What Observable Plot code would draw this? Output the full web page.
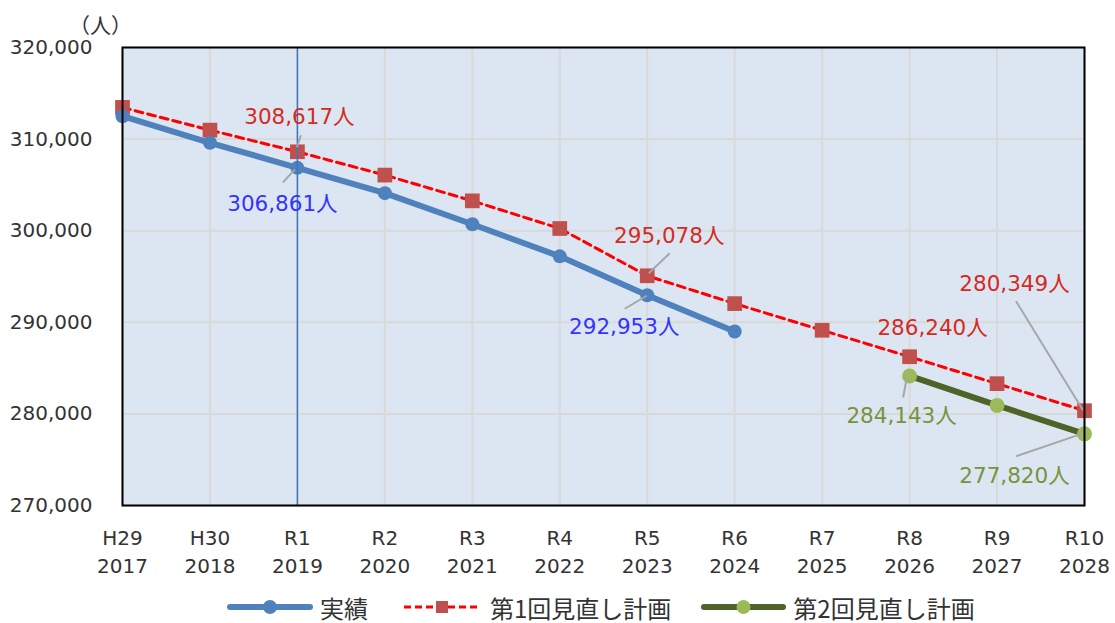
<!DOCTYPE html>
<html><head><meta charset="utf-8">
<script src="https://cdn.jsdelivr.net/npm/d3@7"></script>
<script src="https://cdn.jsdelivr.net/npm/@observablehq/plot@0.6"></script>
<style>
body{margin:0;background:#fff;font-family:"DejaVu Sans","Noto Sans CJK JP",sans-serif;}
#chart{width:1115px;height:585px;}
#legend{display:flex;align-items:center;padding-left:227px;height:44px;font-family:"Noto Sans CJK JP",sans-serif;font-size:24px;color:#333;}
.item{display:flex;align-items:center;}
.item svg{margin-right:7px;}
</style></head><body><div id="chart"></div><div id="legend"></div>
<script>
const years = [2017,2018,2019,2020,2021,2022,2023,2024,2025,2026,2027,2028];
const eraLabels = ["H29","H30","R1","R2","R3","R4","R5","R6","R7","R8","R9","R10"];
const actualYears = [2017,2018,2019,2020,2021,2022,2023,2024];
const actual = [312500,309600,306861,304100,300700,297200,292953,289000];
const plan1 = [313460,310980,308617,306070,303260,300240,295078,292040,289130,286240,283300,280349];
const plan2Years = [2026,2027,2028];
const plan2 = [284143,280930,277820];
const yTicks = [270000,280000,290000,300000,310000,320000];
const seriesNames = ["実績","第1回見直し計画","第2回見直し計画"];

const C = {blue:"#4f81bd", red:"#c0504d", dash:"#ff0000", dg:"#4f6228", lg:"#9bbb59",
  lblBlue:"#3333ff", lblRed:"#d42a20", lblGreen:"#77933c"};

const actualData = actualYears.map((x,i)=>({x, y: actual[i]}));
const plan1Data = years.map((x,i)=>({x, y: plan1[i]}));
const plan2Data = plan2Years.map((x,i)=>({x, y: plan2[i]}));

const fmt = v => d3.format(",")(v) + "人";

const notes = [
  {x:2019, y:plan1[2], c:C.lblRed, dx:2, dy:-35, lead:[[4,-16],[0,-4]]},
  {x:2019, y:actual[2], c:C.lblBlue, dx:-15, dy:36, lead:[[-2,2],[-14,15]]},
  {x:2023, y:plan1[6], c:C.lblRed, dx:22, dy:-40, lead:[[23,-22],[2,-2]]},
  {x:2023, y:actual[6], c:C.lblBlue, dx:-23, dy:32, lead:[[0,1],[-22,14]]},
  {x:2026, y:plan1[9], c:C.lblRed, dx:23, dy:-29, lead:null},
  {x:2028, y:plan1[11], c:C.lblRed, dx:-70, dy:-127, lead:[[-68,-109],[-1,0]]},
  {x:2026, y:plan2[0], c:C.lblGreen, dx:-8, dy:40, lead:[[-2,1],[-6,22]]},
  {x:2028, y:plan2[2], c:C.lblGreen, dx:-70, dy:42, lead:[[-1,0],[-68,23]]}
];

const leaders = (index, scales) => {
  const g = d3.create("svg:g").attr("stroke","#a6a6a6").attr("stroke-width",2);
  for (const n of notes) {
    if (!n.lead) continue;
    const px = scales.x(n.x), py = scales.y(n.y);
    g.append("line").attr("x1",px+n.lead[0][0]).attr("y1",py+n.lead[0][1])
      .attr("x2",px+n.lead[1][0]).attr("y2",py+n.lead[1][1]);
  }
  return g.node();
};

const labelMarks = notes.map(n => Plot.text([n], {x:"x", y:"y", text: d => fmt(d.y), dx:n.dx, dy:n.dy,
  fill:n.c, fontSize:21.5, fontFamily:"DejaVu Sans, Noto Sans CJK JP", textAnchor:"middle"}));

const chart = Plot.plot({
  width:1115, height:585,
  marginLeft:122, marginRight:31, marginTop:47, marginBottom:80,
  style:{fontFamily:"DejaVu Sans, Noto Sans CJK JP", fontSize:"20px", color:"#333", background:"#fff"},
  x:{type:"linear", domain:[2017,2028]},
  y:{domain:[270000,320000]},
  marks:[
    Plot.frame({fill:"#dce6f2", stroke:null}),
    Plot.gridY(yTicks, {stroke:"#d9d9d9", strokeOpacity:1, strokeWidth:2}),
    Plot.gridX(years, {stroke:"#d9d9d9", strokeOpacity:1, strokeWidth:2}),
    Plot.axisY({ticks:yTicks, tickFormat:d3.format(","), tickSize:0, tickPadding:30, label:null, fontSize:20}),
    Plot.axisX({ticks:years, tickFormat:d => eraLabels[years.indexOf(d)] + "\n" + d, tickSize:0, tickPadding:20, lineHeight:1.4, label:null, fontSize:20}),
    Plot.text(["（人）"], {frameAnchor:"top-left", textAnchor:"middle", dx:-22, dy:-29, fontSize:21, fill:"#333", fontFamily:"Noto Sans CJK JP, sans-serif"}),
    Plot.line(plan1Data, {x:"x", y:"y", stroke:C.dash, strokeWidth:3, strokeDasharray:"8,5"}),
    Plot.line(actualData, {x:"x", y:"y", stroke:C.blue, strokeWidth:6}),
    Plot.line(plan2Data, {x:"x", y:"y", stroke:C.dg, strokeWidth:6}),
    Plot.dot(plan1Data, {x:"x", y:"y", symbol:"square", r:8.3, fill:C.red, stroke:null}),
    Plot.dot(actualData, {x:"x", y:"y", r:7, fill:C.blue, stroke:null}),
    Plot.dot(plan2Data, {x:"x", y:"y", r:7.5, fill:C.lg, stroke:null}),
    Plot.ruleX([2019], {stroke:"#3a75c4", strokeOpacity:1, strokeWidth:1.5}),
    leaders,
    ...labelMarks,
    Plot.frame({stroke:"#000", strokeWidth:2})
  ]
});
document.getElementById("chart").append(chart);

// legend
const leg = d3.select("#legend");
const sw = [
  {name:seriesNames[0], line:C.blue, w:6, dash:null, mk:"circle", mc:C.blue, sw:86, gap:33},
  {name:seriesNames[1], line:C.dash, w:3, dash:"7,4", mk:"square", mc:C.red, sw:82, gap:30},
  {name:seriesNames[2], line:C.dg, w:6, dash:null, mk:"circle", mc:C.lg, sw:85, gap:0}
];
for (const s of sw) {
  const it = leg.append("div").attr("class","item").style("margin-right", s.gap+"px");
  const svg = it.append("svg").attr("width",s.sw).attr("height",20);
  svg.append("line").attr("x1",3).attr("x2",s.sw-3).attr("y1",10).attr("y2",10)
    .attr("stroke",s.line).attr("stroke-width",s.w).attr("stroke-linecap", s.dash? "butt":"round")
    .attr("stroke-dasharray",s.dash);
  if (s.mk==="circle") svg.append("circle").attr("cx",s.sw/2).attr("cy",10).attr("r",7).attr("fill",s.mc);
  else svg.append("rect").attr("x",s.sw/2-6).attr("y",4).attr("width",12).attr("height",12).attr("fill",s.mc);
  it.append("span").text(s.name);
}
</script>
</body></html>
